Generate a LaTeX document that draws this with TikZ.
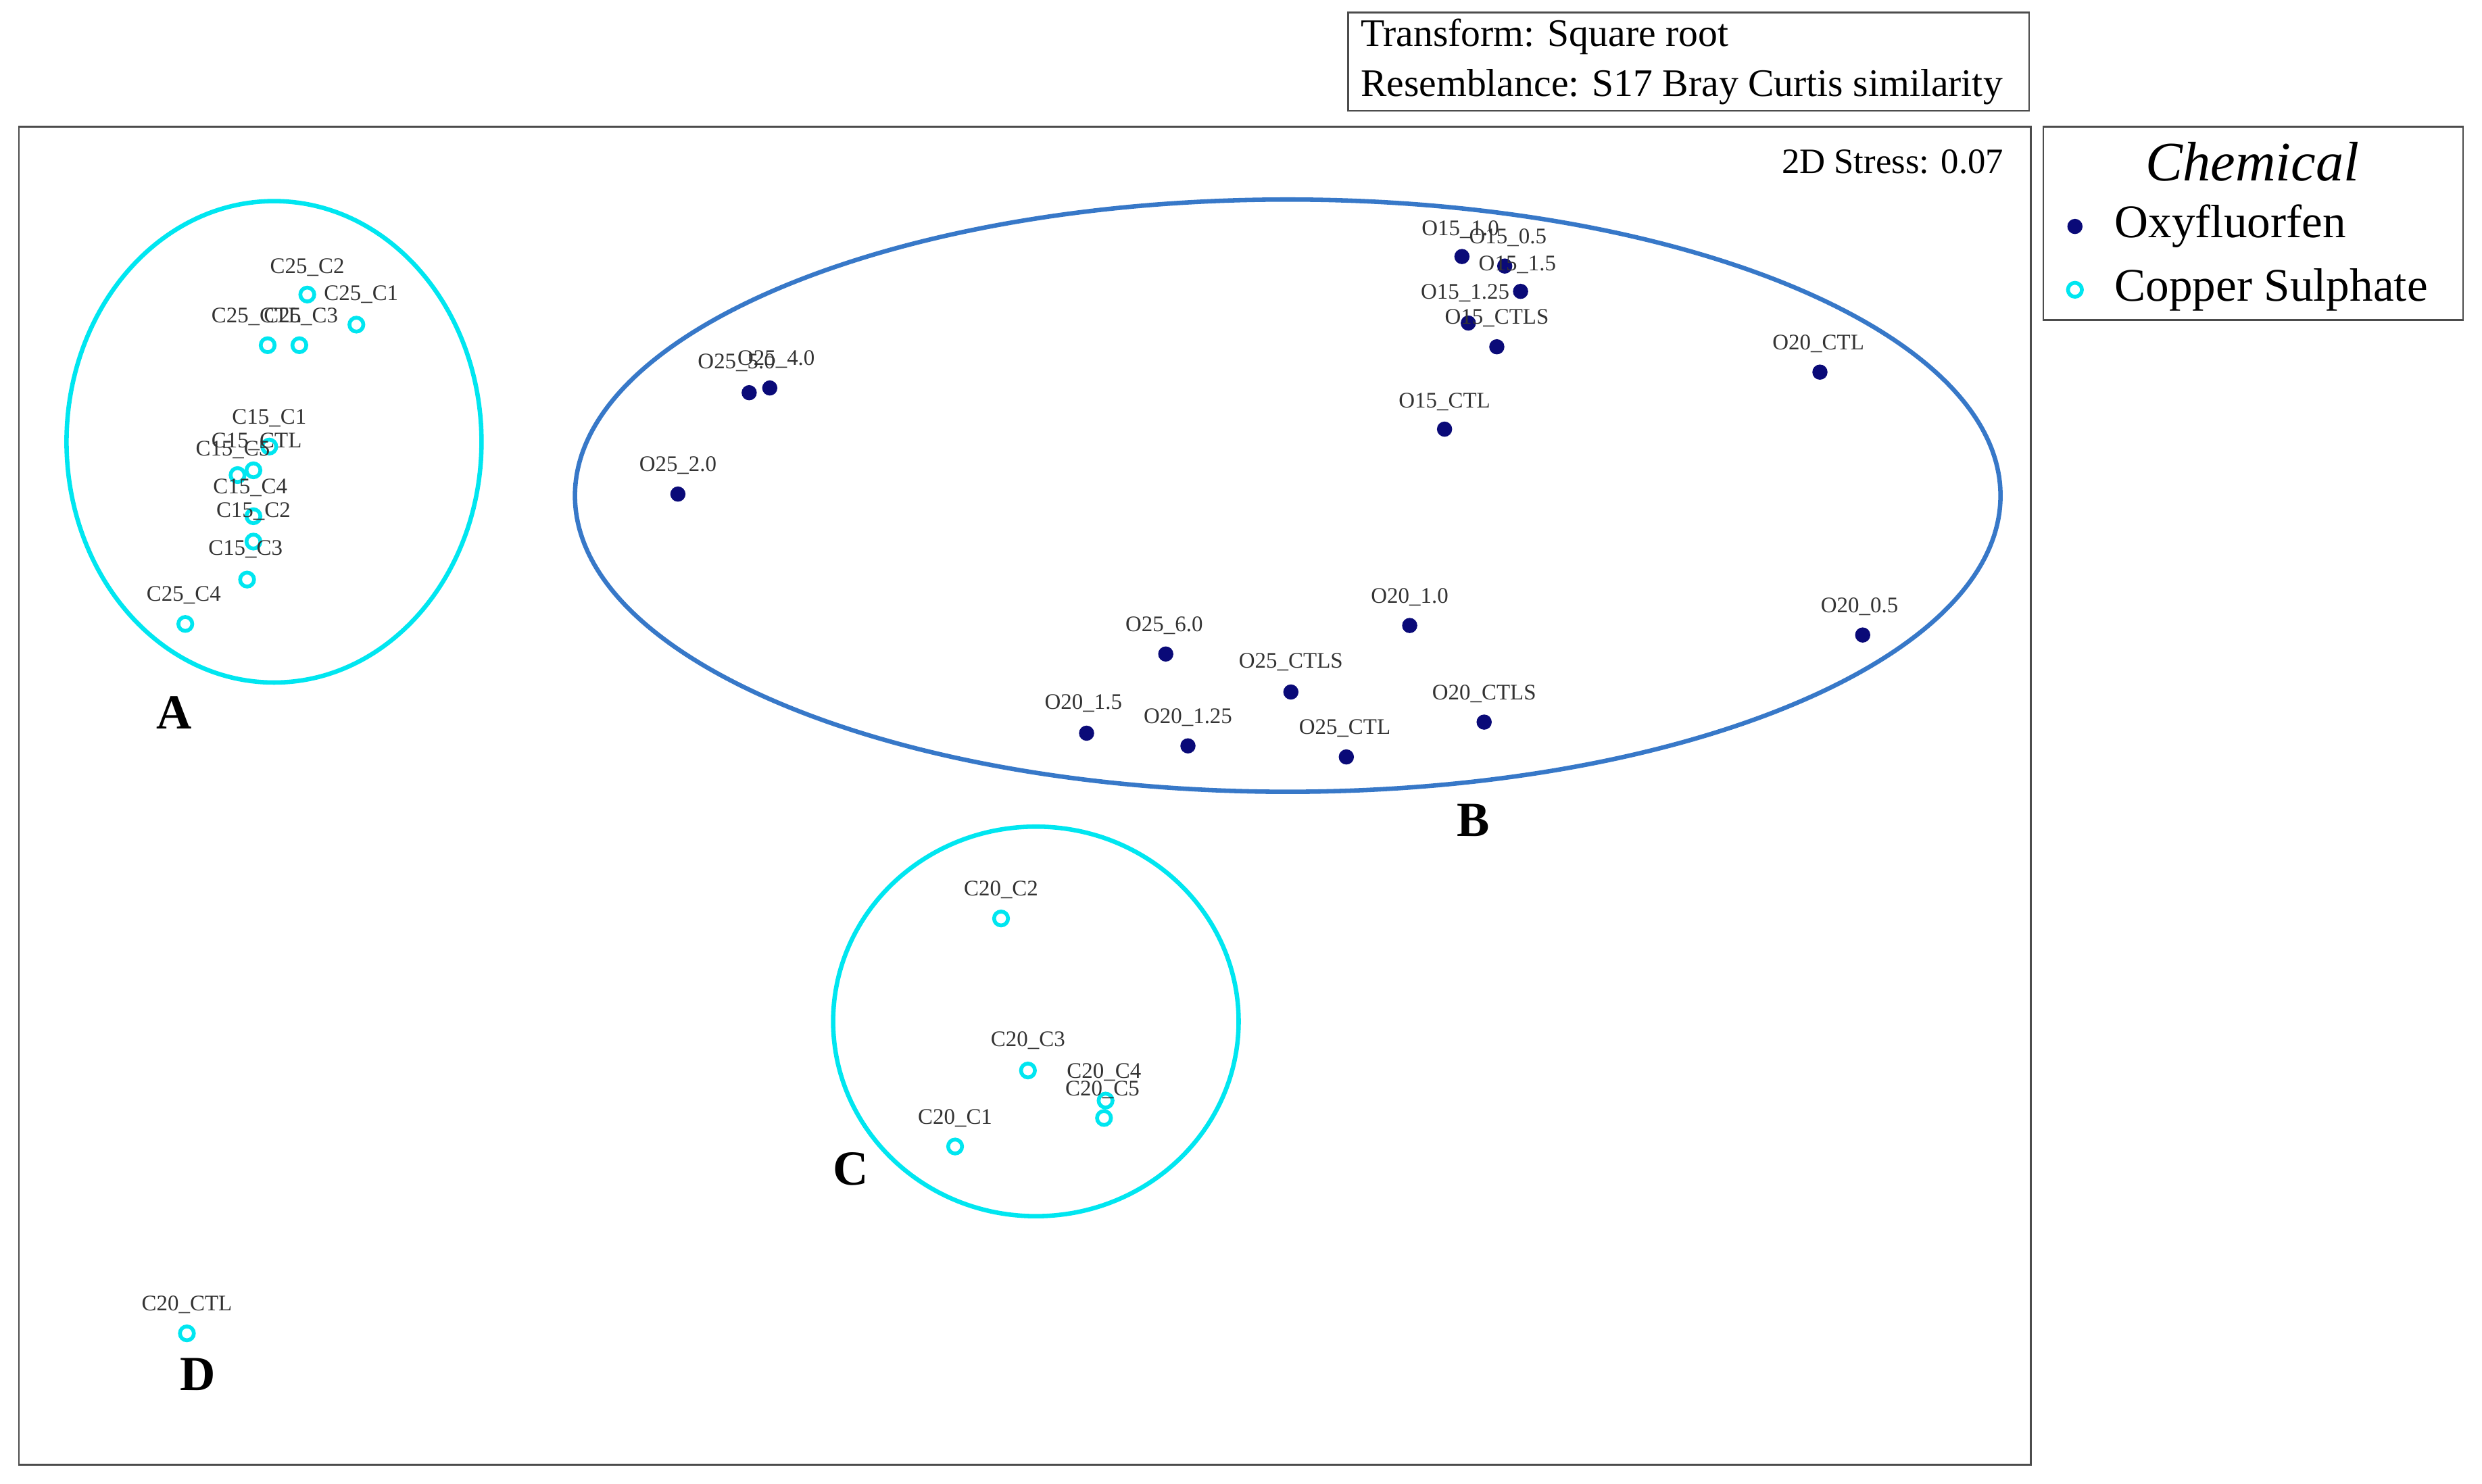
\documentclass[tikz,border=0pt]{standalone}
\usepackage{fontspec}
\setmainfont{Liberation Serif}
\usetikzlibrary{positioning}
\definecolor{navy}{RGB}{10,10,120}
\definecolor{aqua}{RGB}{0,230,240}
\definecolor{ringblue}{RGB}{55,120,200}

\begin{document}
\begin{tikzpicture}[x=0.25mm,y=-0.25mm,semithick]
    \tikzstyle{oxy}=[circle,fill=navy,inner sep=0pt,minimum size=2.4mm]
    \tikzstyle{cop}=[circle,draw=aqua,line width=0.6mm,inner sep=0pt,minimum size=2.2mm]
    \tikzstyle{lbl}=[inner sep=0pt,font=\fontsize{10}{10}\selectfont,text=black!80]
    \tikzstyle{grp}=[font=\fontsize{22}{22}\selectfont\bfseries]
    \tikzstyle{box}=[draw=black!70,thick]

    \useasboundingbox (0,0) rectangle (1567,937);

    % frames
    \draw[box] (12,80) rectangle (1282,925);
    \draw[box] (851,8) rectangle (1281,70);
    \node[anchor=west,font=\fontsize{17.5}{17.5}\selectfont] (tr) at (854,23) {Transform: Square root};
    \node[anchor=west,font=\fontsize{17.5}{17.5}\selectfont] (rs) at (854,55) {Resemblance: S17 Bray Curtis similarity};
    \node[anchor=east,font=\fontsize{16}{16}\selectfont] (stress) at (1270,102) {2D Stress: 0.07};

    % legend
    \draw[box] (1290,80) rectangle (1555,202);
    \node[font=\fontsize{25}{25}\selectfont\itshape] (leg) at (1422,102) {Chemical};
    \node[oxy] (lo) at (1310,143) {};
    \node[anchor=west,font=\fontsize{21}{21}\selectfont] (lot) at (1330,143) {Oxyfluorfen};
    \node[cop] (lc) at (1310,183) {};
    \node[anchor=west,font=\fontsize{21}{21}\selectfont] (lct) at (1330,183) {Copper Sulphate};

    % group outlines
    \draw[aqua,line width=0.7mm] (173,279) ellipse (131 and 152);
    \draw[ringblue,line width=0.7mm] (813,313) ellipse (450 and 187);
    \draw[aqua,line width=0.7mm] (654,645) ellipse (128 and 123);
    \node[grp] (gA) at (110,450) {A};
    \node[grp] (gB) at (930,518) {B};
    \node[grp] (gC) at (537,738) {C};
    \node[grp] (gD) at (125,868) {D};

    % group A
    \node[cop] (c25c2) at (194,186) {};  \node[lbl] at (194,169) {C25\_C2};
    \node[cop] (c25c1) at (225,205) {};  \node[lbl] at (228,186) {C25\_C1};
    \node[cop] (c25ct) at (169,218) {};  \node[lbl] at (162,200) {C25\_CTL};
    \node[cop] (c25c3) at (189,218) {};  \node[lbl] at (190,200) {C25\_C3};
    \node[cop] (c15c1) at (170,282) {};  \node[lbl] at (170,264) {C15\_C1};
    \node[cop] (c15ct) at (160,297) {};  \node[lbl] at (162,279) {C15\_CTL};
    \node[cop] (c15c5) at (150,300) {};  \node[lbl] at (147,284) {C15\_C5};
    \node[cop] (c15c4) at (160,326) {};  \node[lbl] at (158,308) {C15\_C4};
    \node[cop] (c15c2) at (160,342) {};  \node[lbl] at (160,323) {C15\_C2};
    \node[cop] (c15c3) at (156,366) {};  \node[lbl] at (155,347) {C15\_C3};
    \node[cop] (c25c4) at (117,394) {};  \node[lbl] at (116,376) {C25\_C4};

    % group B
    \node[oxy] (o15a) at (923,162) {};   \node[lbl] at (922,145) {O15\_1.0};
    \node[oxy] (o15b) at (950,168) {};   \node[lbl] at (952,150) {O15\_0.5};
    \node[oxy] (o15c) at (960,184) {};   \node[lbl] at (958,167) {O15\_1.5};
    \node[oxy] (o15d) at (927,204) {};   \node[lbl] at (925,185) {O15\_1.25};
    \node[oxy] (o15e) at (945,219) {};   \node[lbl] at (945,201) {O15\_CTLS};
    \node[oxy] (o25a) at (486,245) {};   \node[lbl] at (490,227) {O25\_4.0};
    \node[oxy] (o25b) at (473,248) {};   \node[lbl] at (465,229) {O25\_5.0};
    \node[oxy] (o20a) at (1149,235) {};  \node[lbl] at (1148,217) {O20\_CTL};
    \node[oxy] (o15f) at (912,271) {};   \node[lbl] at (912,254) {O15\_CTL};
    \node[oxy] (o25c) at (428,312) {};   \node[lbl] at (428,294) {O25\_2.0};
    \node[oxy] (o20b) at (890,395) {};   \node[lbl] at (890,377) {O20\_1.0};
    \node[oxy] (o20c) at (1176,401) {};  \node[lbl] at (1174,383) {O20\_0.5};
    \node[oxy] (o25d) at (736,413) {};   \node[lbl] at (735,395) {O25\_6.0};
    \node[oxy] (o25e) at (815,437) {};   \node[lbl] at (815,418) {O25\_CTLS};
    \node[oxy] (o20d) at (937,456) {};   \node[lbl] at (937,438) {O20\_CTLS};
    \node[oxy] (o20e) at (686,463) {};   \node[lbl] at (684,444) {O20\_1.5};
    \node[oxy] (o20f) at (750,471) {};   \node[lbl] at (750,453) {O20\_1.25};
    \node[oxy] (o25f) at (850,478) {};   \node[lbl] at (849,460) {O25\_CTL};

    % group C and D
    \node[cop] (c20c2) at (632,580) {};  \node[lbl] at (632,562) {C20\_C2};
    \node[cop] (c20c3) at (649,676) {};  \node[lbl] at (649,657) {C20\_C3};
    \node[cop] (c20c4) at (698,695) {};  \node[lbl] at (697,677) {C20\_C4};
    \node[cop] (c20c5) at (697,706) {};  \node[lbl] at (696,688) {C20\_C5};
    \node[cop] (c20c1) at (603,724) {};  \node[lbl] at (603,706) {C20\_C1};
    \node[cop] (c20ct) at (118,842) {};  \node[lbl] at (118,824) {C20\_CTL};
\end{tikzpicture}
\end{document}
